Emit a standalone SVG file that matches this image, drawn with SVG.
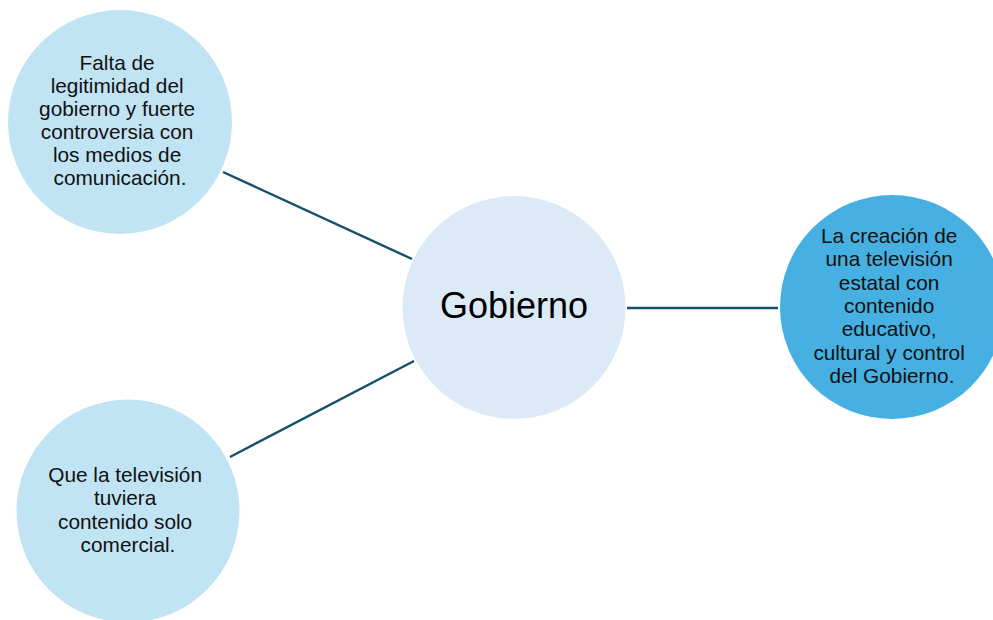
<svg xmlns="http://www.w3.org/2000/svg" width="993" height="620" viewBox="0 0 993 620">
  <style>
    .label { font-family: "Liberation Sans", Arial, sans-serif; font-size: 20.8px; fill: #111; text-anchor: middle; }
    .title { font-family: "Liberation Sans", Arial, sans-serif; font-size: 36px; fill: #000; text-anchor: middle; }
    .link { stroke: #164F6B; stroke-width: 2.4; fill: none; }
    .soft { fill: #C1E4F5; }
    .core { fill: #DCEAF7; }
    .strong { fill: #45B0E1; }
  </style>
  <rect width="993" height="620" fill="#fff"/>

  <!-- connectors between the hub and the surrounding nodes -->
  <g id="connectors">
    <line class="link" x1="223" y1="172" x2="412" y2="259"/>
    <line class="link" x1="414" y1="361" x2="230" y2="457"/>
    <line class="link" x1="627" y1="308" x2="778" y2="308"/>
  </g>

  <g id="node-causa">
    <circle class="soft" cx="120" cy="122" r="112"/>
    <text class="label">
      <tspan x="120" y="70">Falta de</tspan>
      <tspan x="120" y="93">legitimidad del</tspan>
      <tspan x="120" y="116">gobierno y fuerte</tspan>
      <tspan x="120" y="139">controversia con</tspan>
      <tspan x="120" y="162">los medios de</tspan>
      <tspan x="120" y="185">comunicación.</tspan>
    </text>
  </g>

  <g id="node-gobierno">
    <circle class="core" cx="514" cy="307.5" r="111.5"/>
    <text class="title" x="514" y="318">Gobierno</text>
  </g>

  <g id="node-television-estatal">
    <circle class="strong" cx="892" cy="307" r="112"/>
    <text class="label">
      <tspan x="892" y="243">La creación de</tspan>
      <tspan x="892" y="266">una televisión</tspan>
      <tspan x="892" y="290">estatal con</tspan>
      <tspan x="892" y="313">contenido</tspan>
      <tspan x="892" y="336">educativo,</tspan>
      <tspan x="892" y="360">cultural y control</tspan>
      <tspan x="892" y="383">del Gobierno.</tspan>
    </text>
  </g>

  <g id="node-comercial">
    <circle class="soft" cx="128" cy="511" r="111.5"/>
    <text class="label">
      <tspan x="128" y="482">Que la televisión</tspan>
      <tspan x="128" y="505">tuviera</tspan>
      <tspan x="128" y="529">contenido solo</tspan>
      <tspan x="128" y="552">comercial.</tspan>
    </text>
  </g>
</svg>
